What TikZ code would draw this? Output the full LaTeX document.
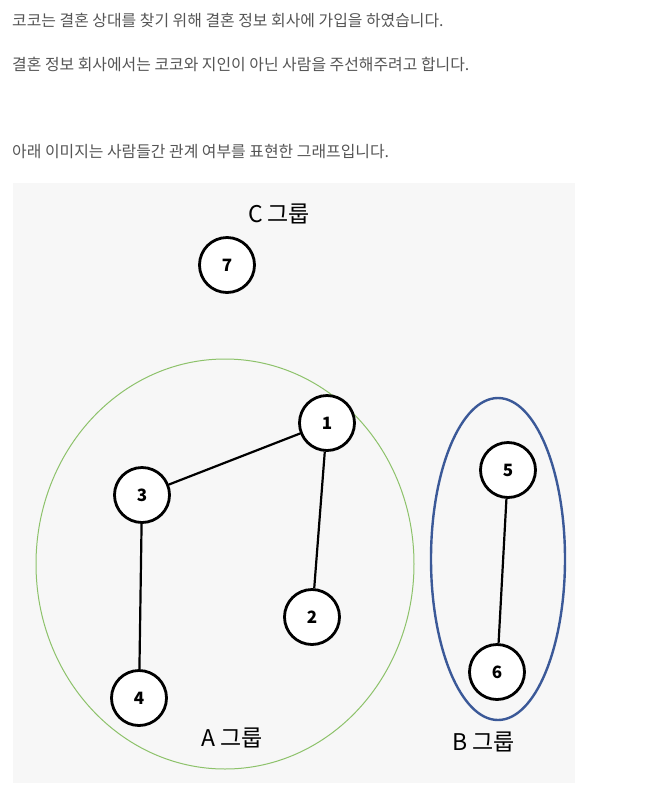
\documentclass[tikz,border=0pt]{standalone}
\usepackage{fontspec}
\setmainfont{Noto Sans CJK KR}
\usepackage{tikz}
\usetikzlibrary{positioning}
\definecolor{panelgray}{HTML}{F7F7F7}
\definecolor{textgray}{HTML}{555555}
\definecolor{groupgreen}{HTML}{8DC26A}
\definecolor{groupblue}{HTML}{3B5998}

\begin{document}
\begin{tikzpicture}[x=1pt, y=-1pt,
        person/.style={circle, draw, line width=2.8pt, fill=white, minimum size=55pt, inner sep=0pt, font=\fontsize{17}{17}\selectfont\bfseries},
        line/.style={text=textgray, anchor=west, inner sep=0pt, font=\fontsize{15.9}{18}\selectfont},
        group/.style={inner sep=0pt, font=\fontsize{23}{26}\selectfont}]
        \path[use as bounding box] (0,0) rectangle (651,796);

        \node[line] at (12, 20)   (t1) {코코는 결혼 상대를 찾기 위해 결혼 정보 회사에 가입을 하였습니다.};
        \node[line] at (12, 64)   (t2) {결혼 정보 회사에서는 코코와 지인이 아닌 사람을 주선해주려고 합니다.};
        \node[line] at (12, 152)  (t3) {아래 이미지는 사람들간 관계 여부를 표현한 그래프입니다.};

        \fill[panelgray] (13, 183) rectangle (575, 783);

        \draw[groupgreen, line width=1pt] (225, 564) ellipse [x radius=189, y radius=205];
        \draw[groupblue, line width=2.4pt] (498, 559) ellipse [x radius=67, y radius=161];

        \node[person] at (327, 423)   (n1) {1};
        \node[person] at (312, 617)   (n2) {2};
        \node[person] at (142, 495)   (n3) {3};
        \node[person] at (139, 698)   (n4) {4};
        \node[person] at (508, 470)   (n5) {5};
        \node[person] at (497, 672)   (n6) {6};
        \node[person] at (227, 265)   (n7) {7};
        \draw [line width=2.2pt] (n1) -- (n3);
        \draw [line width=2.2pt] (n1) -- (n2);
        \draw [line width=2.2pt] (n3) -- (n4);
        \draw [line width=2.2pt] (n5) -- (n6);

        \node[group] at (279, 214)   (gC) {C\hspace{0.2em}그룹};
        \node[group] at (232, 738)   (gA) {A\hspace{0.2em}그룹};
        \node[group] at (484, 742)   (gB) {B\hspace{0.2em}그룹};
    \end{tikzpicture}
\end{document}
